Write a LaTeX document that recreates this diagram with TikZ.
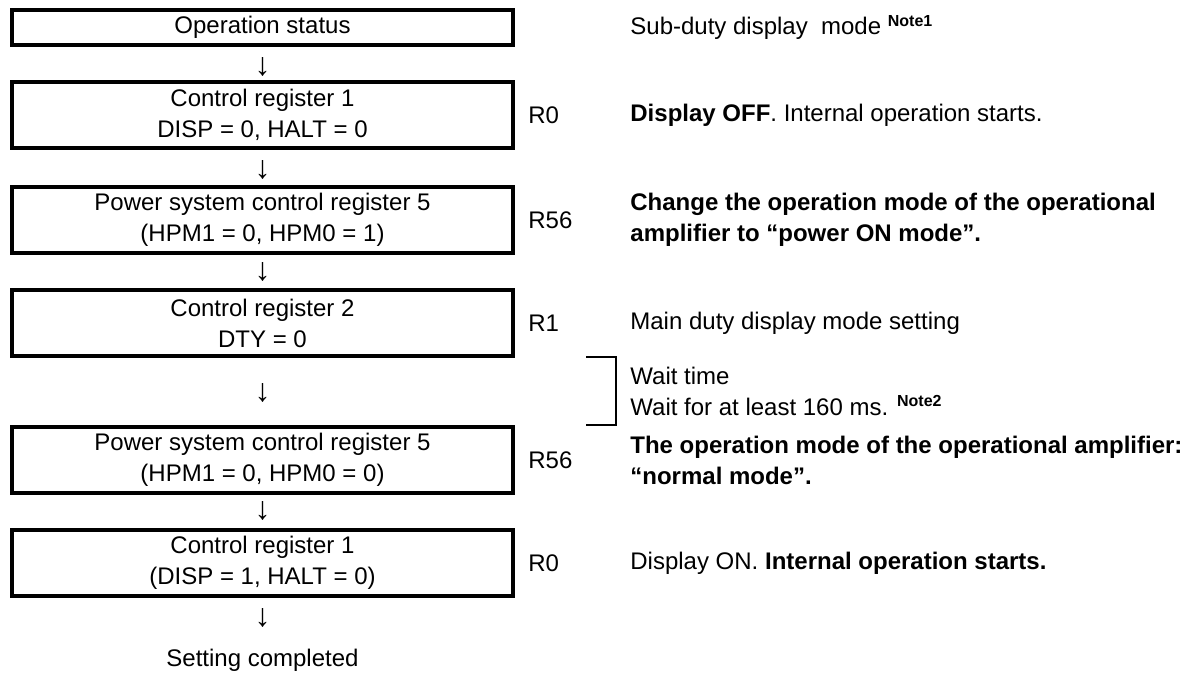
\documentclass[tikz,border=0pt]{standalone}
\usepackage{fontspec}
\setmainfont{Liberation Sans}
\usetikzlibrary{positioning}

\tikzset{
    regbox/.style={draw, line width=2pt, minimum width=250.5pt, minimum height=33pt, align=center, inner sep=0pt},
    regname/.style={anchor=west, inner sep=0pt},
    remark/.style={anchor=west, align=left, inner sep=0pt},
    down/.style={inner sep=0pt, font=\fontsize{16pt}{16pt}\selectfont}
}
\newcommand{\notemark}[1]{\textsuperscript{\bfseries #1}}

\begin{document}
\begin{tikzpicture}[x=0.5pt, y=-0.5pt, every node/.append style={font=\fontsize{12pt}{15.5pt}\selectfont}]

\useasboundingbox (0,0) rectangle (1188,673);

% flow of register settings
\node[regbox, minimum height=17.5pt] (op) at (262.5,27.5) {Operation status};
\node[down] (d1) at (262.5,67) {↓};
\node[regbox] (cr1) at (262.5,115) {Control register 1\\DISP = 0, HALT = 0};
\node[down] (d2) at (262.5,170) {↓};
\node[regbox] (pw1) at (262.5,220) {Power system control register 5\\(HPM1 = 0, HPM0 = 1)};
\node[down] (d3) at (262.5,272) {↓};
\node[regbox] (cr2) at (262.5,323) {Control register 2\\DTY = 0};
\node[down] (d4) at (262.5,393) {↓};
\node[regbox] (pw2) at (262.5,460) {Power system control register 5\\(HPM1 = 0, HPM0 = 0)};
\node[down] (d5) at (262.5,511) {↓};
\node[regbox] (cr3) at (262.5,563) {Control register 1\\(DISP = 1, HALT = 0)};
\node[down] (d6) at (262.5,618) {↓};
\node (done) at (262.5,660) {Setting completed};

% register numbers
\node[regname] (r0a) at (528,115) {R0};
\node[regname] (r56a) at (528,220) {R56};
\node[regname] (r1) at (528,323) {R1};
\node[regname] (r56b) at (528,460) {R56};
\node[regname] (r0b) at (528,563) {R0};

% remarks
\node[remark] (m0) at (630,27.5) {Sub-duty display\ \ mode \notemark{Note1}};
\node[remark] (m1) at (630,115) {\textbf{Display OFF}. Internal operation starts.};
\node[remark, font=\fontsize{12pt}{15.5pt}\selectfont\bfseries] (m2) at (630,220) {Change the operation mode of the operational\\amplifier to “power ON mode”.};
\node[remark] (m3) at (630,323) {Main duty display mode setting};
\node[remark] (m4) at (630,391) {Wait time\\Wait for at least 160 ms. \notemark{Note2}};
\node[remark, font=\fontsize{12pt}{15.5pt}\selectfont\bfseries] (m5) at (630,460) {The operation mode of the operational amplifier:\\“normal mode”.};
\node[remark] (m6) at (630,563) {Display ON. \textbf{Internal operation starts.}};

% wait bracket
\coordinate (wt) at (586,357);
\coordinate (wb) at (586,425);
\draw[line width=0.6pt] (wt) -- ++(30,0) |- (wb);

\end{tikzpicture}
\end{document}
